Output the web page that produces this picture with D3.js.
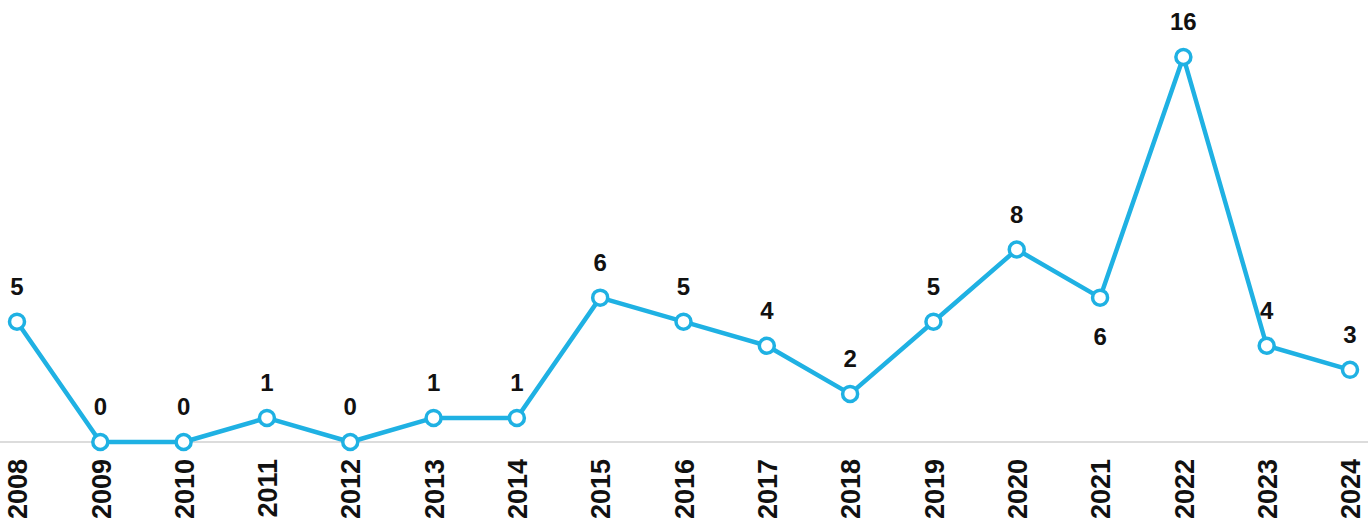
<!DOCTYPE html>
<html>
<head>
<meta charset="utf-8">
<script src="https://cdn.jsdelivr.net/npm/d3@7"></script>
<style>
  body { margin: 0; background: #fff; }
  text { font-family: "Liberation Sans", Arial, sans-serif; font-weight: bold; fill: #111; }
</style>
</head>
<body>
<svg width="1368" height="530"></svg>
<script>
var years = ["2008", "2009", "2010", "2011", "2012", "2013", "2014", "2015", "2016",
             "2017", "2018", "2019", "2020", "2021", "2022", "2023", "2024"];
var counts = [5, 0, 0, 1, 0, 1, 1, 6, 5, 4, 2, 5, 8, 6, 16, 4, 3];
// labels drawn under the point instead of above
var labelBelow = ["2021"];

var svg = d3.select("svg");
var width = +svg.attr("width"),
    height = +svg.attr("height");

var x = d3.scalePoint()
    .domain(years)
    .range([17, 1350]);

var y = d3.scaleLinear()
    .domain([0, 16])
    .range([442, 57]);

var data = years.map((yr, i) => ({ year: yr, value: counts[i] }));

// baseline
svg.append("line")
    .attr("x1", 0).attr("x2", width)
    .attr("y1", y(0)).attr("y2", y(0))
    .style("stroke", "#d0d0d0")
    .style("stroke-width", 1.5);

// year axis, rotated labels
var xAxis = svg.append("g")
    .attr("transform", "translate(0," + y(0) + ")")
    .call(d3.axisBottom(x).tickSize(0).tickPadding(0));
xAxis.select(".domain").remove();
xAxis.selectAll("text")
    .attr("transform", "rotate(-90)")
    .attr("x", -17)
    .attr("y", 0)
    .attr("dy", "0.36em")
    .style("text-anchor", "end")
    .style("font-size", "27px")
    .style("font-family", "'Liberation Sans', Arial, sans-serif")
    .style("font-weight", "bold")
    .style("fill", "#111");

var line = d3.line()
    .x(d => x(d.year))
    .y(d => y(d.value));

svg.append("path")
    .datum(data)
    .attr("d", line)
    .style("fill", "none")
    .style("stroke", "#1fb1e3")
    .style("stroke-width", 4.5)
    .style("stroke-linejoin", "round");

svg.append("g").selectAll("circle")
    .data(data).enter()
    .append("circle")
    .attr("cx", d => x(d.year))
    .attr("cy", d => y(d.value))
    .attr("r", 7.5)
    .style("fill", "#fff")
    .style("stroke", "#1fb1e3")
    .style("stroke-width", 3.5);

svg.append("g").selectAll("text")
    .data(data).enter()
    .append("text")
    .attr("x", d => x(d.year))
    .attr("y", d => labelBelow.indexOf(d.year) >= 0 ? y(d.value) + 47 : y(d.value) - 27)
    .attr("text-anchor", "middle")
    .style("font-size", "24px")
    .text(d => d.value);
</script>
</body>
</html>
